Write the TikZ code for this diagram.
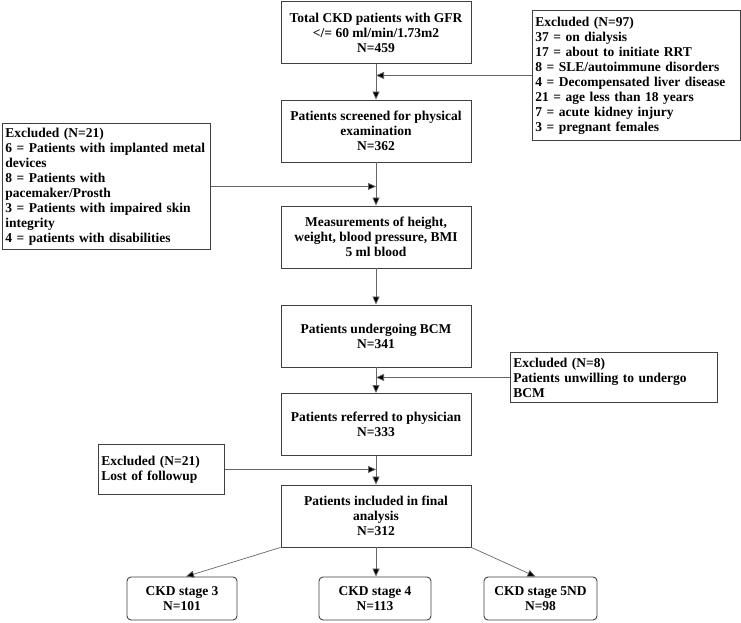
\documentclass[tikz,border=0pt]{standalone}
\usepackage{fontspec}
\setmainfont{Liberation Serif}
\usetikzlibrary{arrows.meta}
\begin{document}
\begin{tikzpicture}[x=1pt,y=-1pt,
  every node/.style={font=\bfseries\fontsize{13.5}{15}\selectfont},
  mainbox/.style={draw=black!75, line width=0.9pt, minimum width=190pt, minimum height=62pt, align=center, inner sep=2pt},
  exbox/.style={draw=black!75, line width=0.9pt, align=left, inner xsep=3pt, inner ysep=2pt, anchor=north west},
  stagebox/.style={draw=black!75, line width=0.9pt, rounded corners=4pt, minimum height=43pt, align=center, inner sep=2pt},
  conn/.style={draw=black!60, line width=0.7pt, -{Triangle[length=8pt,width=7pt,fill=black]}}
]
\useasboundingbox (0,0) rectangle (741,622);

\node[mainbox] (b1) at (376,32.5) {Total CKD patients with GFR\\ \textless/= 60 ml/min/1.73m2\\ N=459};
\node[mainbox] (b2) at (376,131) {Patients screened for physical\\ examination\\ N=362};
\node[mainbox] (b3) at (376,237) {Measurements of height,\\ weight, blood pressure, BMI\\ 5 ml blood};
\node[mainbox] (b4) at (376,336) {Patients undergoing BCM\\ N=341};
\node[mainbox] (b5) at (376,424.5) {Patients referred to physician\\ N=333};
\node[mainbox] (b6) at (376,516) {Patients included in final\\ analysis\\ N=312};

\node[exbox, text width=202pt, minimum height=130pt] (e1) at (532,10) {Excluded (N=97)\\ 37 = on dialysis\\ 17 = about to initiate RRT\\ 8 = SLE/autoimmune disorders\\ 4 = Decompensated liver disease\\ 21 = age less than 18 years\\ 7 = acute kidney injury\\ 3 = pregnant females};
\node[exbox, text width=202pt, minimum height=126pt] (e2) at (2,123) {Excluded (N=21)\\ 6 = Patients with implanted metal\\ devices\\ 8 = Patients with\\ pacemaker/Prosth\\ 3 = Patients with impaired skin\\ integrity\\ 4 = patients with disabilities};
\node[exbox, text width=201pt, minimum height=50pt] (e3) at (510,352) {Excluded (N=8)\\ Patients unwilling to undergo\\ BCM};
\node[exbox, text width=120pt, minimum height=50pt] (e4) at (98,444) {Excluded (N=21)\\ Lost of followup};

\node[stagebox, minimum width=110pt] (s3) at (182,598.5) {CKD stage 3\\ N=101};
\node[stagebox, minimum width=112pt] (s4) at (375,598.5) {CKD stage 4\\ N=113};
\node[stagebox, minimum width=113pt] (s5) at (540.5,598.5) {CKD stage 5ND\\ N=98};

\draw[conn] (b1) -- (b2);
\draw[conn] (b2) -- (b3);
\draw[conn] (b3) -- (b4);
\draw[conn] (b4) -- (b5);
\draw[conn] (b5) -- (b6);

\draw[conn] (e1.west) -- (e1.west -| b1.south);
\draw[conn] (e2.east) -- (e2.east -| b2.south);
\draw[conn] (e3.west) -- (e3.west -| b4.south);
\draw[conn] (e4.east) -- (e4.east -| b5.south);

\draw[conn] (b6.south west) -- ([xshift=4pt]s3.north);
\draw[conn] (b6.south) -- (b6.south |- s4.north);
\draw[conn] (b6.south east) -- ([xshift=-5pt]s5.north);
\end{tikzpicture}
\end{document}
